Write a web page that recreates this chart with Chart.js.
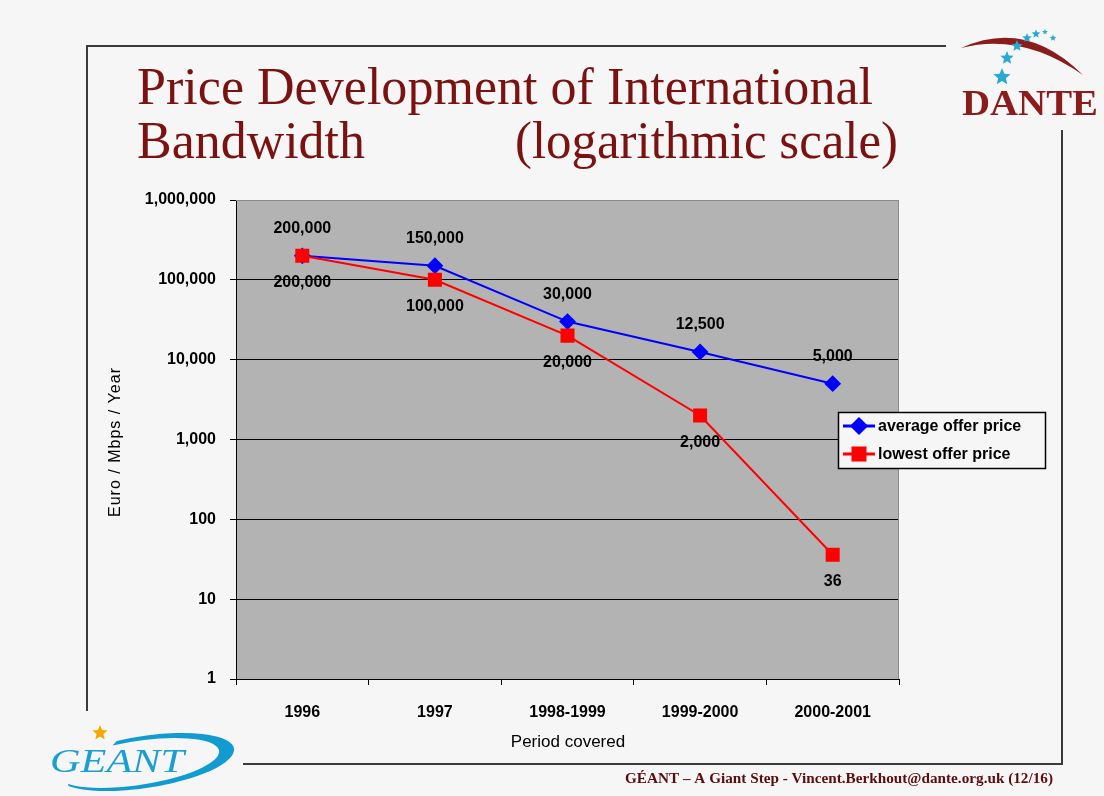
<!DOCTYPE html>
<html>
<head>
<meta charset="utf-8">
<script src="https://cdn.jsdelivr.net/npm/chart.js@4/dist/chart.umd.min.js"></script>
<style>
  html, body { margin: 0; padding: 0; background: #f6f6f6; }
  #wrap { width: 1104px; height: 796px; position: relative; }
</style>
</head>
<body>
<div id="wrap"><canvas id="chart" width="1104" height="796"></canvas></div>
<script>
// data
const periods = ['1996', '1997', '1998-1999', '1999-2000', '2000-2001'];
const averagePrice = [200000, 150000, 30000, 12500, 5000];
const lowestPrice = [200000, 100000, 20000, 2000, 36];
const yTicks = [1, 10, 100, 1000, 10000, 100000, 1000000];
const yTickLabels = ['1', '10', '100', '1,000', '10,000', '100,000', '1,000,000'];

const SANS = '"Liberation Sans", Arial, sans-serif';
const SERIF = '"Liberation Serif", "Times New Roman", serif';
const BG = '#f6f6f6';
const MAROON = '#7b1212';

// text stretched/squeezed to a given width
function fitText(c, text, x, y, w, font, color) {
    c.save();
    c.font = font;
    c.fillStyle = color;
    c.textAlign = 'left';
    c.textBaseline = 'alphabetic';
    const k = w / c.measureText(text).width;
    c.translate(x, y);
    c.scale(k, 1);
    c.fillText(text, 0, 0);
    c.restore();
}

function star(c, cx, cy, r, color) {
    c.save();
    c.beginPath();
    for (let i = 0; i < 10; i++) {
        const a = -Math.PI / 2 + i * Math.PI / 5;
        const rr = i % 2 ? r * 0.45 : r;
        c.lineTo(cx + Math.cos(a) * rr, cy + Math.sin(a) * rr);
    }
    c.closePath();
    c.fillStyle = color;
    c.fill();
    c.restore();
}

// --- slide decoration: frame, title, logos, footer ---
const slidePlugin = {
    id: 'slide',
    beforeDraw(chart) {
        const c = chart.ctx;
        const a = chart.chartArea;
        c.save();
        c.fillStyle = BG;
        c.fillRect(0, 0, chart.width, chart.height);
        // plot background
        c.fillStyle = '#b3b3b3';
        c.fillRect(a.left, a.top, a.right - a.left, a.bottom - a.top);
        c.restore();
    },
    afterDraw(chart) {
        const c = chart.ctx;
        const a = chart.chartArea;
        c.save();
        // plot frame top / right in grey
        c.strokeStyle = '#8a8a8a';
        c.lineWidth = 1;
        c.beginPath();
        c.moveTo(a.left, a.top + 0.5); c.lineTo(a.right - 0.5, a.top + 0.5); c.lineTo(a.right - 0.5, a.bottom);
        c.stroke();

        // slide frame lines
        c.strokeStyle = '#3a3a3a';
        c.lineWidth = 2;
        c.beginPath();
        c.moveTo(86, 46); c.lineTo(946, 46);
        c.moveTo(87, 46); c.lineTo(87, 711);
        c.moveTo(1062, 130); c.lineTo(1062, 764);
        c.moveTo(243, 764); c.lineTo(1063, 764);
        c.stroke();

        // title
        fitText(c, 'Price Development of International', 137, 104, 736, '52px ' + SERIF, MAROON);
        fitText(c, 'Bandwidth', 137, 158, 228, '52px ' + SERIF, MAROON);
        fitText(c, '(logarithmic scale)', 515, 158, 383, '52px ' + SERIF, MAROON);

        // DANTE logo
        c.beginPath();
        c.moveTo(961, 48);
        c.quadraticCurveTo(1026, 18, 1083, 75);
        c.quadraticCurveTo(1022, 32, 961, 48);
        c.fillStyle = '#8b1c1c';
        c.fill();
        const cyan = '#2aa8d4';
        star(c, 1002, 77, 9, cyan);
        star(c, 1007, 58, 7, cyan);
        star(c, 1017, 46, 6, cyan);
        star(c, 1027, 38, 5, cyan);
        star(c, 1036, 34, 4.5, cyan);
        star(c, 1045, 32, 3, cyan);
        star(c, 1053, 38, 3.5, cyan);
        fitText(c, 'DANTE', 962, 115, 136, 'bold 36px ' + SERIF, '#8b1c1c');

        // GEANT logo
        c.beginPath();
        c.ellipse(145, 762, 90, 26, -0.15, 2.65, -1.85, true);
        c.ellipse(138, 763, 82, 22, -0.15, -1.85, 2.65, false);
        c.closePath();
        c.fillStyle = '#129bd0';
        c.fill();
        star(c, 100, 733, 8, '#f5a800');
        fitText(c, 'GEANT', 50, 772, 134, 'italic 33px ' + SERIF, '#1a9fd3');

        // footer
        fitText(c, 'GÉANT – A Giant Step - Vincent.Berkhout@dante.org.uk (12/16)', 625, 783, 428, 'bold 14px ' + SERIF, '#5c0c0c');

        // axis titles
        c.fillStyle = '#000';
        c.textAlign = 'center';
        c.textBaseline = 'middle';
        c.font = '17px ' + SANS;
        c.fillText('Period covered', 568, 742);
        c.save();
        c.translate(116, 442);
        c.rotate(-Math.PI / 2);
        c.letterSpacing = '1px';
        c.font = '16px ' + SANS;
        c.fillText('Euro / Mbps / Year', 0, 0);
        c.restore();

        // legend
        c.fillStyle = BG;
        c.fillRect(838, 412, 207, 56);
        c.strokeStyle = '#000';
        c.lineWidth = 1.5;
        c.strokeRect(838.5, 412.5, 207, 56);
        chart.data.datasets.forEach((ds, i) => {
            const y = 426 + i * 28;
            c.strokeStyle = ds.borderColor;
            c.lineWidth = 3;
            c.beginPath();
            c.moveTo(843, y); c.lineTo(875, y);
            c.stroke();
            c.fillStyle = ds.backgroundColor;
            c.strokeStyle = ds.borderColor;
            Chart.helpers.drawPoint(c, { pointStyle: ds.pointStyle, radius: ds.pointRadius, rotation: 0, borderWidth: 1 }, 859, y);
            c.fillStyle = '#000';
            c.textAlign = 'left';
            c.textBaseline = 'middle';
            c.font = 'bold 16px ' + SANS;
            c.fillText(ds.label, 878, y + 1);
        });
        c.restore();
    },
    afterDatasetsDraw(chart) {
        // value labels: average above, lowest below
        const c = chart.ctx;
        c.save();
        c.fillStyle = '#000';
        c.font = 'bold 16px ' + SANS;
        c.textAlign = 'center';
        c.textBaseline = 'middle';
        chart.data.datasets.forEach((ds, i) => {
            const meta = chart.getDatasetMeta(i);
            const dy = i === 0 ? -27 : 27;
            meta.data.forEach((p, j) => {
                c.fillText(ds.data[j].toLocaleString('en-US'), p.x, p.y + dy);
            });
        });
        c.restore();
    }
};

const ctx = document.getElementById('chart').getContext('2d');
const chart = new Chart(ctx, {
    type: 'line',
    data: {
        labels: periods,
        datasets: [
            { label: 'average offer price', data: averagePrice, borderColor: '#0000ff', backgroundColor: '#0000ff', borderWidth: 2, pointStyle: 'rectRot', pointRadius: 7, pointHoverRadius: 7, tension: 0, order: 1 },
            { label: 'lowest offer price', data: lowestPrice, borderColor: '#ff0000', backgroundColor: '#ff0000', borderWidth: 2, pointStyle: 'rect', pointRadius: 8.5, pointHoverRadius: 8.5, tension: 0, order: 0 }
        ]
    },
    options: {
        responsive: false, devicePixelRatio: 1, animation: false,
        layout: { padding: { top: 200, right: 205, left: 0, bottom: 0 } },
        plugins: { legend: { display: false }, tooltip: { enabled: false } },
        scales: {
            x: {
                offset: true,
                grid: { offset: true, drawOnChartArea: false, color: '#000', tickLength: 6 },
                border: { color: '#000', width: 1 },
                ticks: { color: '#000', padding: 18, maxRotation: 0, font: { family: SANS, size: 16, weight: 'bold' } },
                afterFit: s => { s.height = 117; }
            },
            y: {
                type: 'logarithmic', min: 1, max: 1000000,
                afterBuildTicks: s => { s.ticks = yTicks.map(v => ({ value: v })); },
                grid: { color: ctx => (ctx.tick && ctx.tick.value === 1000000 ? '#8a8a8a' : '#000'), tickColor: '#000', tickLength: 6, lineWidth: 1 },
                border: { color: '#000', width: 1 },
                ticks: { color: '#000', padding: 14, font: { family: SANS, size: 16, weight: 'bold' }, callback: (v, i) => yTickLabels[i] },
                afterFit: s => { s.width = 236; }
            }
        }
    },
    plugins: [slidePlugin]
});
</script>
</body>
</html>
